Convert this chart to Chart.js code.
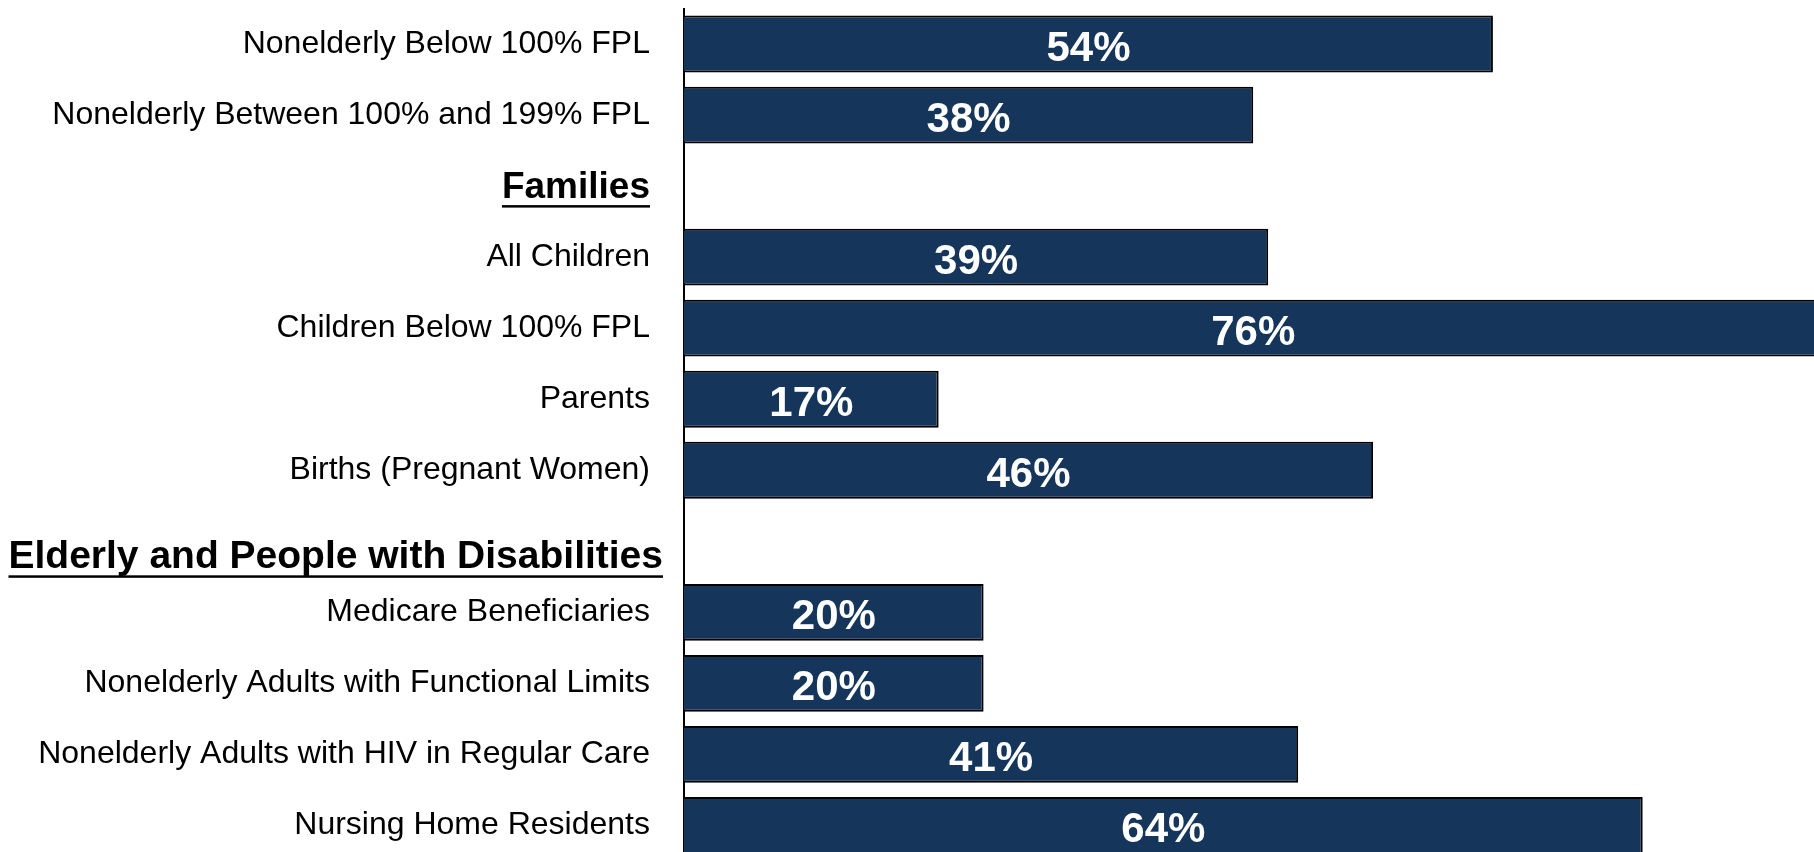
<!DOCTYPE html>
<html>
<head>
<meta charset="utf-8">
<script src="https://cdn.jsdelivr.net/npm/chart.js@4"></script>
<style>
    html, body { margin: 0; padding: 0; background: #fff; overflow: hidden; }
    #wrap { position: relative; width: 1814px; height: 861px; }
</style>
</head>
<body>
<div id="wrap"><canvas id="coverageChart"></canvas></div>
<script>
// Share covered, by group
const categories = [
    'Nonelderly Below 100% FPL',
    'Nonelderly Between 100% and 199% FPL',
    'Families',
    'All Children',
    'Children Below 100% FPL',
    'Parents',
    'Births (Pregnant Women)',
    'Elderly and People with Disabilities',
    'Medicare Beneficiaries',
    'Nonelderly Adults with Functional Limits',
    'Nonelderly Adults with HIV in Regular Care',
    'Nursing Home Residents'
];
const values = [54, 38, null, 39, 76, 17, 46, null, 20, 20, 41, 64];
const headers = ['Families', 'Elderly and People with Disabilities'];

const FONT = "'Liberation Sans', Arial, sans-serif";
const AXIS_X = 684;

// header rows are drawn by hand: bold + underlined
const headerStyle = {
    'Families': { size: 37, right: 650, dy: 12, uy: 20 },
    'Elderly and People with Disabilities': { size: 39, right: 663, dy: 27, uy: 35 }
};

const headerPlugin = {
    id: 'headers',
    afterDraw(chart) {
        const ctx = chart.ctx;
        const yScale = chart.scales.y;
        ctx.save();
        headers.forEach(h => {
            const st = headerStyle[h];
            const y = yScale.getPixelForValue(categories.indexOf(h));
            ctx.font = `bold ${st.size}px ${FONT}`;
            ctx.fillStyle = '#000';
            ctx.textAlign = 'right';
            ctx.textBaseline = 'alphabetic';
            ctx.fillText(h, st.right, y + st.dy);
            const w = ctx.measureText(h).width;
            ctx.fillRect(st.right - w, y + st.uy - 1, w, 2.5);
        });
        ctx.restore();
    }
};

const valueLabels = {
    id: 'valueLabels',
    afterDatasetsDraw(chart) {
        const ctx = chart.ctx;
        const meta = chart.getDatasetMeta(0);
        ctx.save();
        ctx.font = `bold 42px ${FONT}`;
        ctx.fillStyle = '#fff';
        ctx.textAlign = 'center';
        ctx.textBaseline = 'alphabetic';
        meta.data.forEach((bar, i) => {
            if (values[i] == null) return;
            ctx.fillText(values[i] + '%', (bar.base + bar.x) / 2, bar.y + 17);
        });
        ctx.restore();
    }
};

const ctx = document.getElementById('coverageChart').getContext('2d');
new Chart(ctx, {
    type: 'bar',
    data: {
        labels: categories,
        datasets: [{
            data: values,
            backgroundColor: '#15365A',
            borderColor: '#000',
            borderWidth: 2,
            categoryPercentage: 1.0,
            barPercentage: 0.8
        }]
    },
    options: {
        indexAxis: 'y',
        responsive: true,
        maintainAspectRatio: false,
        animation: false,
        layout: { padding: { top: 8.5, left: 0, right: 0, bottom: 0 } },
        plugins: {
            legend: { display: false },
            tooltip: { enabled: false }
        },
        scales: {
            x: {
                display: false,
                min: 0,
                max: 1130 / 14.98
            },
            y: {
                afterFit: (scale) => {
                    scale.width = AXIS_X;
                    scale.paddingTop = 0;
                    scale.paddingBottom = 0;
                },
                grid: { display: false, drawTicks: false },
                border: { display: true, color: '#000', width: 2 },
                ticks: {
                    autoSkip: false,
                    padding: 34,
                    color: '#000',
                    font: { family: FONT, size: 32 },
                    callback: function (val, i) {
                        const label = categories[i];
                        return headers.includes(label) ? '' : label;
                    }
                }
            }
        }
    },
    plugins: [headerPlugin, valueLabels]
});
</script>
</body>
</html>
